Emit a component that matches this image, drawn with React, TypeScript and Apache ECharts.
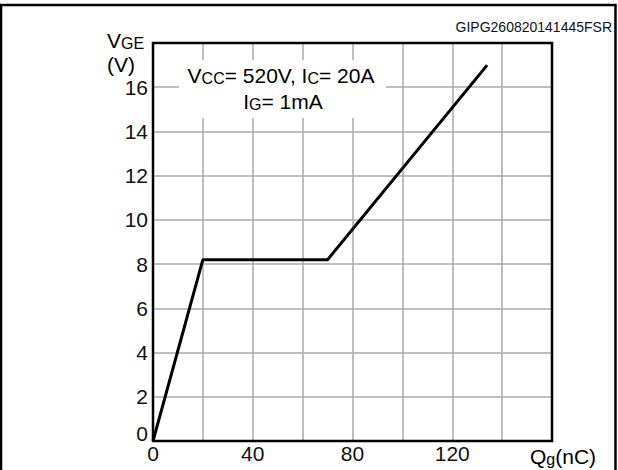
import React, { useEffect, useRef } from "react";
import * as echarts from "echarts";

const qgValues = [0, 20, 70, 134];
const vgeValues = [0, 8.2, 8.2, 17];
const xTickLabels = ["0", "40", "80", "120"];
const yTickLabels = ["0", "2", "4", "6", "8", "10", "12", "14", "16"];
const conditionLine1 = "V{s|CC}= 520V, I{s|C}= 20A";
const conditionLine2 = "I{s|G}= 1mA";
const figureCode = "GIPG260820141445FSR";

const FONT = "Liberation Sans, Arial, sans-serif";

export default function App() {
  const ref = useRef<HTMLDivElement>(null);
  useEffect(() => {
    if (!ref.current) return;
    const chart = echarts.init(ref.current, undefined, { renderer: "svg" });
    const rich = {
      b: { fontSize: 21, fontFamily: FONT, color: "#111", lineHeight: 24, verticalAlign: "bottom" },
      s: { fontSize: 16, fontFamily: FONT, color: "#111", lineHeight: 22, verticalAlign: "bottom" },
    };
    const wrap = (t: string) =>
      t
        .split(/(\{s\|[^}]*\})/)
        .filter((p) => p.length)
        .map((p) => (p.startsWith("{s|") ? p : `{b|${p}}`))
        .join("");
    chart.setOption({
      animation: false,
      backgroundColor: "#fff",
      grid: {
        left: 153,
        top: 43,
        right: 66,
        bottom: 29,
        show: true,
        borderColor: "#000",
        borderWidth: 2.5,
        backgroundColor: "transparent",
        z: 5,
      },
      xAxis: {
        type: "value",
        min: 0,
        max: 160,
        interval: 20,
        axisLine: { show: false },
        axisTick: { show: false },
        splitLine: { show: true, lineStyle: { color: "#aaa", width: 1.5 } },
        axisLabel: {
          fontSize: 21,
          fontFamily: FONT,
          color: "#111",
          margin: 2,
          formatter: (v: number) => (xTickLabels.includes(String(v)) ? String(v) : ""),
        },
      },
      yAxis: {
        type: "value",
        min: 0,
        max: 18,
        interval: 2,
        axisLine: { show: false },
        axisTick: { show: false },
        splitLine: { show: true, lineStyle: { color: "#aaa", width: 1.5 } },
        axisLabel: {
          fontSize: 21,
          fontFamily: FONT,
          color: "#111",
          margin: 5,
          formatter: (v: number) =>
            !yTickLabels.includes(String(v)) ? "" : v === 0 ? "{z|0}" : String(v),
          rich: {
            z: { fontSize: 21, fontFamily: FONT, color: "#111", padding: [0, 0, 16, 0] },
          },
        },
      },
      series: [
        {
          type: "line",
          data: qgValues.map((q, i) => [q, vgeValues[i]]),
          showSymbol: false,
          symbol: "none",
          lineStyle: { color: "#000", width: 3 },
          z: 10,
        },
      ],
      graphic: [
        {
          type: "rect",
          shape: { x: 1, y: 5, width: 614.5, height: 480 },
          style: { fill: "none", stroke: "#000", lineWidth: 2.5 },
          z: 100,
        },
        {
          type: "rect",
          shape: { x: 179, y: 60, width: 207, height: 58 },
          style: { fill: "#fff" },
          z: 50,
        },
        {
          type: "text",
          x: 281,
          y: 74,
          style: { text: wrap(conditionLine1), rich, align: "center", verticalAlign: "middle" },
          z: 60,
        },
        {
          type: "text",
          x: 283,
          y: 100,
          style: { text: wrap(conditionLine2), rich, align: "center", verticalAlign: "middle" },
          z: 60,
        },
        {
          type: "text",
          x: 612,
          y: 27,
          style: { text: figureCode, fontSize: 14, fontFamily: FONT, fill: "#111", align: "right", verticalAlign: "middle" },
          z: 60,
        },
        {
          type: "text",
          x: 107,
          y: 39,
          style: { text: "{b|V}{s|GE}", rich, align: "left", verticalAlign: "middle" },
          z: 60,
        },
        {
          type: "text",
          x: 107,
          y: 63,
          style: { text: "{b|(V)}", rich, align: "left", verticalAlign: "middle" },
          z: 60,
        },
        {
          type: "text",
          x: 530,
          y: 455,
          style: { text: "{b|Q}{s|g}{b|(nC)}", rich, align: "left", verticalAlign: "middle" },
          z: 60,
        },
      ],
    });
    return () => chart.dispose();
  }, []);
  return (
    <div
      ref={ref}
      style={{ position: "fixed", left: 0, top: 0, width: 618, height: 470 }}
    />
  );
}
